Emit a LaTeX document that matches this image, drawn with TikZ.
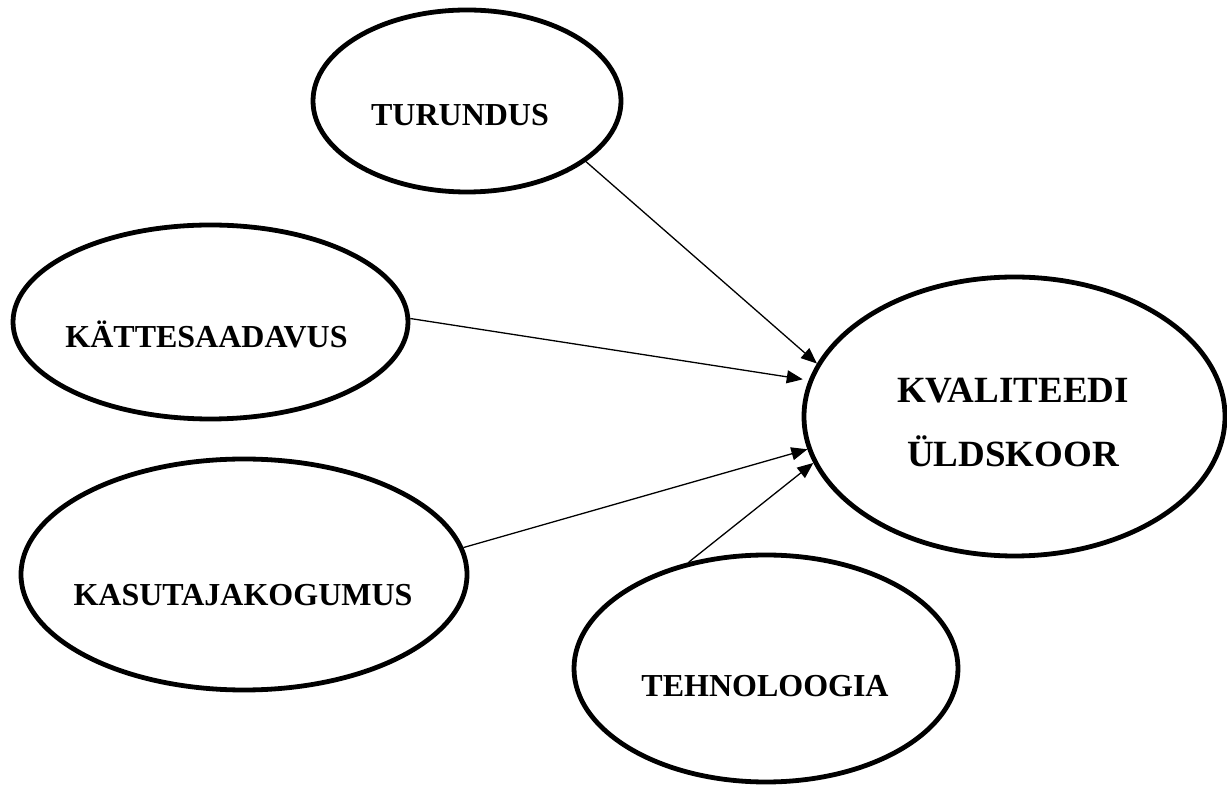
\documentclass[tikz,border=0pt]{standalone}
\usepackage{fontspec}
\setmainfont{Liberation Serif}
\usetikzlibrary{shapes.geometric,arrows.meta}
\begin{document}
\begin{tikzpicture}[x=0.5pt,y=-0.5pt,
    oval/.style={shape=ellipse, draw, line width=2.4pt, inner sep=0pt},
    lbl/.style={font=\bfseries\fontsize{16}{19}\selectfont, inner sep=0pt, anchor=base},
    arr/.style={-{Triangle[length=8pt,width=6.5pt]}, line width=0.65pt}]
\useasboundingbox (0,0) rectangle (1227,785);
% ovals
\node[oval, minimum width=154pt, minimum height=91pt] (tur) at (467,101) {};
\node[oval, minimum width=197.5pt, minimum height=97pt] (kat) at (210.5,322) {};
\node[oval, minimum width=223pt, minimum height=115.5pt] (kas) at (244,574.5) {};
\node[oval, minimum width=192pt, minimum height=113.5pt] (teh) at (766,668.5) {};
\node[oval, minimum width=210.5pt, minimum height=139.5pt] (kv) at (1014.5,416.5) {};
% texts
\node[lbl] (turtxt) at (460,126) {TURUNDUS};
\node[lbl] (kattxt) at (206.5,348) {KÄTTESAADAVUS};
\node[lbl] (kastxt) at (243,606) {KASUTAJAKOGUMUS};
\node[lbl] (tehtxt) at (765,697) {TEHNOLOOGIA};
\node[font=\bfseries\fontsize{18.5}{32}\selectfont, align=center, inner sep=0pt] (kvtxt) at (1013,422) {KVALITEEDI\\ÜLDSKOOR};
% arrows
\draw[arr] (tur.-27) -- (kv.165);
\draw[arr, shorten >=3pt] (kat.1.5) -- (kv.170);
\draw[arr] (kas.7) -- (kv.-171);
\draw[arr] (teh.126) -- (kv.-167);
\end{tikzpicture}
\end{document}
